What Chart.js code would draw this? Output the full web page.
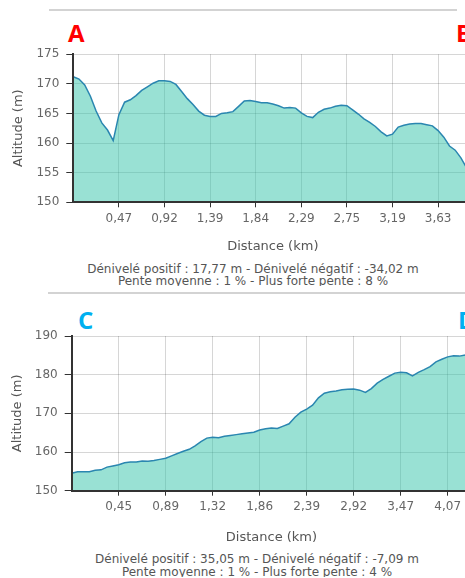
<!DOCTYPE html>
<html>
<head>
<meta charset="utf-8">
<script src="https://cdn.jsdelivr.net/npm/chart.js@4"></script>
<style>
    html, body { margin: 0; padding: 0; background: #fff; overflow: hidden; width: 465px; height: 578px; }
    .panel { position: absolute; left: 0; width: 465px; overflow: hidden; }
    .sep { position: absolute; height: 2px; background: #d3d3d3; }
    .lettre { position: absolute; font-family: "Open Sans"; font-weight: bold; font-size: 24px; line-height: 1; }
    .pied { position: absolute; left: 0; font-family: "DejaVu Sans"; font-size: 12px; line-height: 12.4px; color: #555; text-align: center; white-space: nowrap; }
    canvas { position: absolute; left: 0; }
</style>
</head>
<body>
<div class="panel" style="top:0;height:286px">
    <div class="sep" style="top:9px;left:49px;width:408px"></div>
    <div class="lettre" style="left:68px;top:20.5px;color:#ff0000">A</div>
    <div class="lettre" style="left:456px;top:20.5px;color:#ff0000">B</div>
    <canvas id="profil-ab" width="480" height="220" style="top:40px"></canvas>
    <div class="pied" style="top:262.7px;width:506px">Dénivelé positif : 17,77 m - Dénivelé négatif : -34,02 m<br>Pente moyenne : 1 % - Plus forte pente : 8 %</div>
</div>
<div class="panel" style="top:286px;height:291px">
    <div class="sep" style="top:5.7px;left:48px;width:420px"></div>
    <div class="lettre" style="left:78px;top:21.5px;color:#00b0f0">C</div>
    <div class="lettre" style="left:458px;top:21.5px;color:#00b0f0">D</div>
    <canvas id="profil-cd" width="480" height="230" style="top:34px"></canvas>
    <div class="pied" style="top:267.4px;width:514px">Dénivelé positif : 35,05 m - Dénivelé négatif : -7,09 m<br>Pente moyenne : 1 % - Plus forte pente : 4 %</div>
</div>
<script>
// altitudes (m), un point tous les 1/8 d'intervalle entre graduations
const altitudesAB = [
    171.2, 170.8, 169.8, 167.9, 165.4, 163.4, 162.2, 160.4, 164.8, 166.9,
    167.3, 168.0, 168.9, 169.5, 170.1, 170.5, 170.5, 170.4, 169.9, 168.7,
    167.5, 166.5, 165.4, 164.7, 164.5, 164.5, 165.0, 165.1, 165.3, 166.2,
    167.1, 167.2, 167.0, 166.8, 166.8, 166.6, 166.3, 165.9, 166.0, 165.9,
    165.1, 164.5, 164.3, 165.2, 165.7, 165.9, 166.2, 166.4, 166.3, 165.6,
    164.9, 164.1, 163.5, 162.8, 161.9, 161.2, 161.5, 162.7, 163.0, 163.2,
    163.3, 163.3, 163.1, 162.9, 162.1, 161.0, 159.5, 158.8, 157.5, 155.8,
    154.5
];
const graduationsAB = [8, 16, 24, 32, 40, 48, 56, 64];
const distancesAB = ["0,47", "0,92", "1,39", "1,84", "2,29", "2,75", "3,19", "3,63"];

const altitudesCD = [
    154.5, 154.9, 154.9, 154.9, 155.3, 155.4, 156.1, 156.4, 156.7, 157.2,
    157.4, 157.4, 157.7, 157.6, 157.8, 158.1, 158.4, 159.0, 159.6, 160.2,
    160.7, 161.6, 162.7, 163.6, 163.8, 163.7, 164.1, 164.3, 164.5, 164.7,
    164.9, 165.1, 165.7, 166.0, 166.2, 166.1, 166.7, 167.3, 169.0, 170.3,
    171.1, 172.1, 174.0, 175.2, 175.6, 175.8, 176.1, 176.2, 176.3, 176.0,
    175.4, 176.4, 177.8, 178.8, 179.6, 180.4, 180.6, 180.5, 179.7, 180.6,
    181.3, 182.1, 183.3, 184.0, 184.6, 184.9, 184.8, 185.1, 185.2
];
const graduationsCD = [8, 16, 24, 32, 40, 48, 56, 64];
const distancesCD = ["0,45", "0,89", "1,32", "1,86", "2,39", "2,92", "3,47", "4,07"];

Chart.defaults.font.family = "DejaVu Sans";

function afficherProfil(id, altitudes, graduations, distances, yMin, yMax, yPas, cadre) {
    const points = altitudes.map((alt, i) => ({ x: i, y: alt }));
    const grille = { color: "rgba(0,0,0,0.16)", tickColor: "#333", tickLength: 5 };
    const bordure = { color: "#333", width: 2, z: 1 };
    new Chart(document.querySelector(id), {
        type: "line",
        data: {
            datasets: [{
                data: points,
                borderColor: "#2a86b0",
                borderWidth: 1.5,
                backgroundColor: "rgba(51,195,169,0.5)",
                fill: "start",
                pointRadius: 0,
                tension: 0,
            }],
        },
        options: {
            responsive: false,
            animation: false,
            layout: { padding: { top: cadre.haut, right: cadre.droite, left: 0, bottom: 0 } },
            plugins: { legend: { display: false }, tooltip: { enabled: false } },
            scales: {
                x: {
                    type: "linear",
                    min: 0,
                    max: altitudes.length - 1,
                    afterBuildTicks: s => { s.ticks = graduations.map(v => ({ value: v })); },
                    afterFit: s => { s.height = cadre.hauteurX; },
                    ticks: {
                        autoSkip: false, maxRotation: 0, color: "#666", padding: 4,
                        font: { size: 12 },
                        callback: (v, i) => distances[i],
                    },
                    grid: grille,
                    border: bordure,
                    title: {
                        display: true, text: "Distance (km)", color: "#555",
                        font: { size: 13 }, padding: { top: 0, bottom: cadre.titreX },
                    },
                },
                y: {
                    min: yMin,
                    max: yMax,
                    afterFit: s => { s.width = cadre.gauche; },
                    ticks: { stepSize: yPas, color: "#666", padding: 7, font: { size: 12 } },
                    grid: { color: "rgba(0,0,0,0.16)", tickColor: "#333", tickLength: 7 },
                    border: bordure,
                    title: {
                        display: true, text: "Altitude (m)", color: "#555",
                        font: { size: 13 }, padding: { top: cadre.titreY, bottom: 0 },
                    },
                },
            },
        },
    });
}

afficherProfil("#profil-ab", altitudesAB, graduationsAB, distancesAB, 150, 175, 5,
    { gauche: 73.3, haut: 12.3, droite: 7.7, hauteurX: 57.7, titreX: 5.5, titreY: 11 });
afficherProfil("#profil-cd", altitudesCD, graduationsCD, distancesCD, 150, 190, 10,
    { gauche: 71.7, haut: 16, droite: 8.8, hauteurX: 59.3, titreX: 4.9, titreY: 9.7 });
</script>
</body>
</html>
